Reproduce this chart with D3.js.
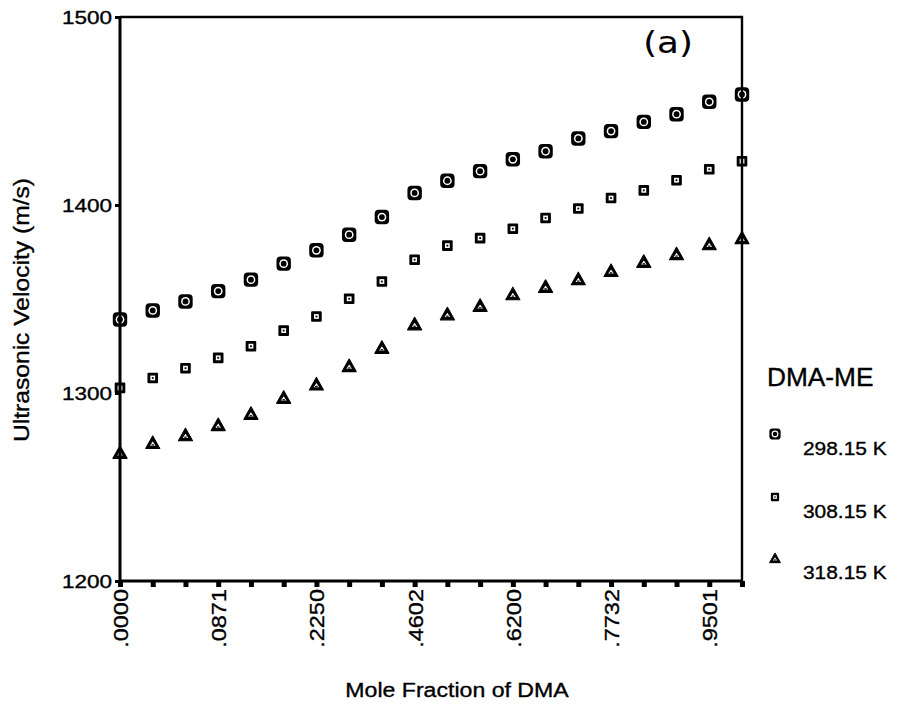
<!DOCTYPE html>
<html>
<head>
<meta charset="utf-8">
<script src="https://cdn.jsdelivr.net/npm/d3@7"></script>
<style>
  html, body { margin: 0; padding: 0; background: #fff; }
  svg { display: block; }
  text { font-family: "Liberation Sans", Arial, sans-serif; fill: #000; stroke: #000; stroke-width: 0.35px; }
</style>
</head>
<body>
<svg id="chart" width="898" height="715"></svg>
<script>
// Mole fraction of DMA: 20 compositions, only every third one is labelled on the axis
const compositionIndex = d3.range(20);
const moleFractionLabels = [".0000", "", "", ".0871", "", "", ".2250", "", "", ".4602",
                            "", "", ".6200", "", "", ".7732", "", "", ".9501", ""];

// Ultrasonic velocity (m/s) of DMA-ME mixtures at three temperatures
const velocity298 = [1339.1, 1343.9, 1348.7, 1354.2, 1360.3, 1368.8, 1375.9, 1384.2, 1393.6, 1406.4,
                     1412.9, 1418.0, 1424.3, 1428.6, 1435.4, 1439.3, 1444.2, 1448.3, 1454.9, 1458.8];
const velocity308 = [1302.7, 1308.0, 1313.2, 1318.7, 1324.9, 1333.2, 1340.7, 1350.1, 1359.3, 1370.9,
                     1378.4, 1382.4, 1387.4, 1393.1, 1398.1, 1403.7, 1407.8, 1413.2, 1419.0, 1423.3];
const velocity318 = [1268.4, 1273.7, 1277.8, 1283.2, 1289.2, 1297.7, 1304.8, 1314.6, 1324.3, 1336.8,
                     1342.1, 1346.6, 1352.8, 1356.7, 1360.8, 1365.2, 1370.0, 1374.1, 1379.4, 1382.6];

const seriesNames = ["298.15 K", "308.15 K", "318.15 K"];
const seriesMarkers = ["ringSquare", "dotSquare", "triangle"];
const yTickValues = [1200, 1300, 1400, 1500];

const series = [velocity298, velocity308, velocity318].map((vals, k) => ({
  name: seriesNames[k], marker: seriesMarkers[k], values: vals
}));

const svg = d3.select("#chart");
const plotLeft = 120, plotRight = 742, plotTop = 17, plotBottom = 581;

const x = d3.scalePoint().domain(compositionIndex).range([plotLeft, plotRight]);
const y = d3.scaleLinear().domain([1200, 1500]).range([plotBottom, plotTop]);

// marker glyphs (drawn centred on 0,0)
function drawMarker(g, type, s) {
  if (type === "ringSquare") {
    g.append("rect").attr("x", -7.2 * s).attr("y", -7.2 * s).attr("width", 14.4 * s).attr("height", 14.4 * s)
      .attr("rx", 4 * s).attr("fill", "#000");
    g.append("circle").attr("r", 4.4 * s).attr("fill", "#fff");
    g.append("circle").attr("r", 2.9 * s).attr("fill", "#000");
  } else if (type === "dotSquare") {
    g.append("rect").attr("x", -5.3 * s).attr("y", -5.3 * s).attr("width", 10.6 * s).attr("height", 10.6 * s)
      .attr("rx", 1 * s).attr("fill", "#000");
    g.append("rect").attr("x", -2.4 * s).attr("y", -2.4 * s).attr("width", 4.8 * s).attr("height", 4.8 * s)
      .attr("fill", "#fff");
    g.append("rect").attr("x", -0.9 * s).attr("y", -0.9 * s).attr("width", 1.8 * s).attr("height", 1.8 * s)
      .attr("fill", "#000");
  } else {
    g.append("path")
      .attr("d", `M0,${-6.5 * s} L${7 * s},${6 * s} L${-7 * s},${6 * s} Z`)
      .attr("fill", "#000").attr("stroke", "#000").attr("stroke-width", 1.2 * s)
      .attr("stroke-linejoin", "round");
    g.append("path")
      .attr("d", `M0,${-1 * s} L${2.8 * s},${3.2 * s} L${-2.8 * s},${3.2 * s} Z`)
      .attr("fill", "#fff");
    g.append("rect").attr("x", -1.2 * s).attr("y", 1.8 * s).attr("width", 2.4 * s).attr("height", 1.2 * s)
      .attr("fill", "#000");
  }
}

// data points
const plot = svg.append("g");
series.forEach(sr => {
  sr.values.forEach((v, i) => {
    const g = plot.append("g").attr("transform", `translate(${x(i)},${y(v)})`);
    drawMarker(g, sr.marker, 1);
  });
});

// frame: top and right border
svg.append("path")
  .attr("d", `M${plotLeft},${plotTop} H${plotRight} V${plotBottom}`)
  .attr("fill", "none").attr("stroke", "#000").attr("stroke-width", 2.4);

// y axis
const yAxis = svg.append("g").attr("transform", `translate(${plotLeft},0)`)
  .call(d3.axisLeft(y).tickValues(yTickValues).tickFormat(d3.format("d")).tickSize(5).tickPadding(0));
yAxis.select(".domain").attr("stroke-width", 3).attr("d", `M0,${plotTop}V${plotBottom}`);
yAxis.selectAll(".tick line").attr("stroke-width", 3);
yAxis.selectAll(".tick text")
  .attr("x", -8 / 1.25).attr("dy", "0.36em")
  .style("font-size", "18px")
  .attr("transform", "scale(1.25,1)");

// x axis
const xAxis = svg.append("g").attr("transform", `translate(0,${plotBottom})`)
  .call(d3.axisBottom(x).tickFormat(i => moleFractionLabels[i]).tickSize(6).tickPadding(0));
xAxis.select(".domain").attr("stroke-width", 2.8).attr("d", `M${plotLeft},0H${plotRight}`);
xAxis.selectAll(".tick line").attr("stroke-width", 5);
xAxis.selectAll(".tick text")
  .attr("text-anchor", "end")
  .attr("x", -8 / 1.12).attr("y", 0).attr("dy", "0.36em")
  .style("font-size", "21px")
  .attr("transform", "rotate(-90) scale(1.12,1)");

// stretched text helper
function label(txt, tx, ty, size, opts = {}) {
  const rot = opts.rotate ? ` rotate(${opts.rotate})` : "";
  const sx = opts.stretch || 1.1;
  return svg.append("text")
    .attr("transform", `translate(${tx},${ty})${rot} scale(${sx},1)`)
    .attr("text-anchor", opts.anchor || "start")
    .style("font-size", size + "px")
    .style("font-family", opts.family || null)
    .style("stroke-width", opts.stroke != null ? opts.stroke + "px" : null)
    .text(txt);
}

// axis titles
label("Mole Fraction of DMA", 457, 697, 21, { anchor: "middle", stretch: 1.1 });
label("Ultrasonic Velocity (m/s)", 29, 310, 22, { anchor: "middle", rotate: -90, stretch: 1.12 });

// panel tag
label("(a)", 668, 53, 31, { anchor: "middle", stretch: 1.15, family: "DejaVu Sans", stroke: 0.1 });

// legend
label("DMA-ME", 767, 386, 25, { stretch: 1.05 });
const legendY = [434, 497, 558];
series.forEach((sr, k) => {
  const g = svg.append("g").attr("transform", `translate(775,${legendY[k]})`);
  drawMarker(g, sr.marker, 0.78);
  label(sr.name, 803, legendY[k] + 21, 19, { stretch: 1.1 });
});
</script>
</body>
</html>
